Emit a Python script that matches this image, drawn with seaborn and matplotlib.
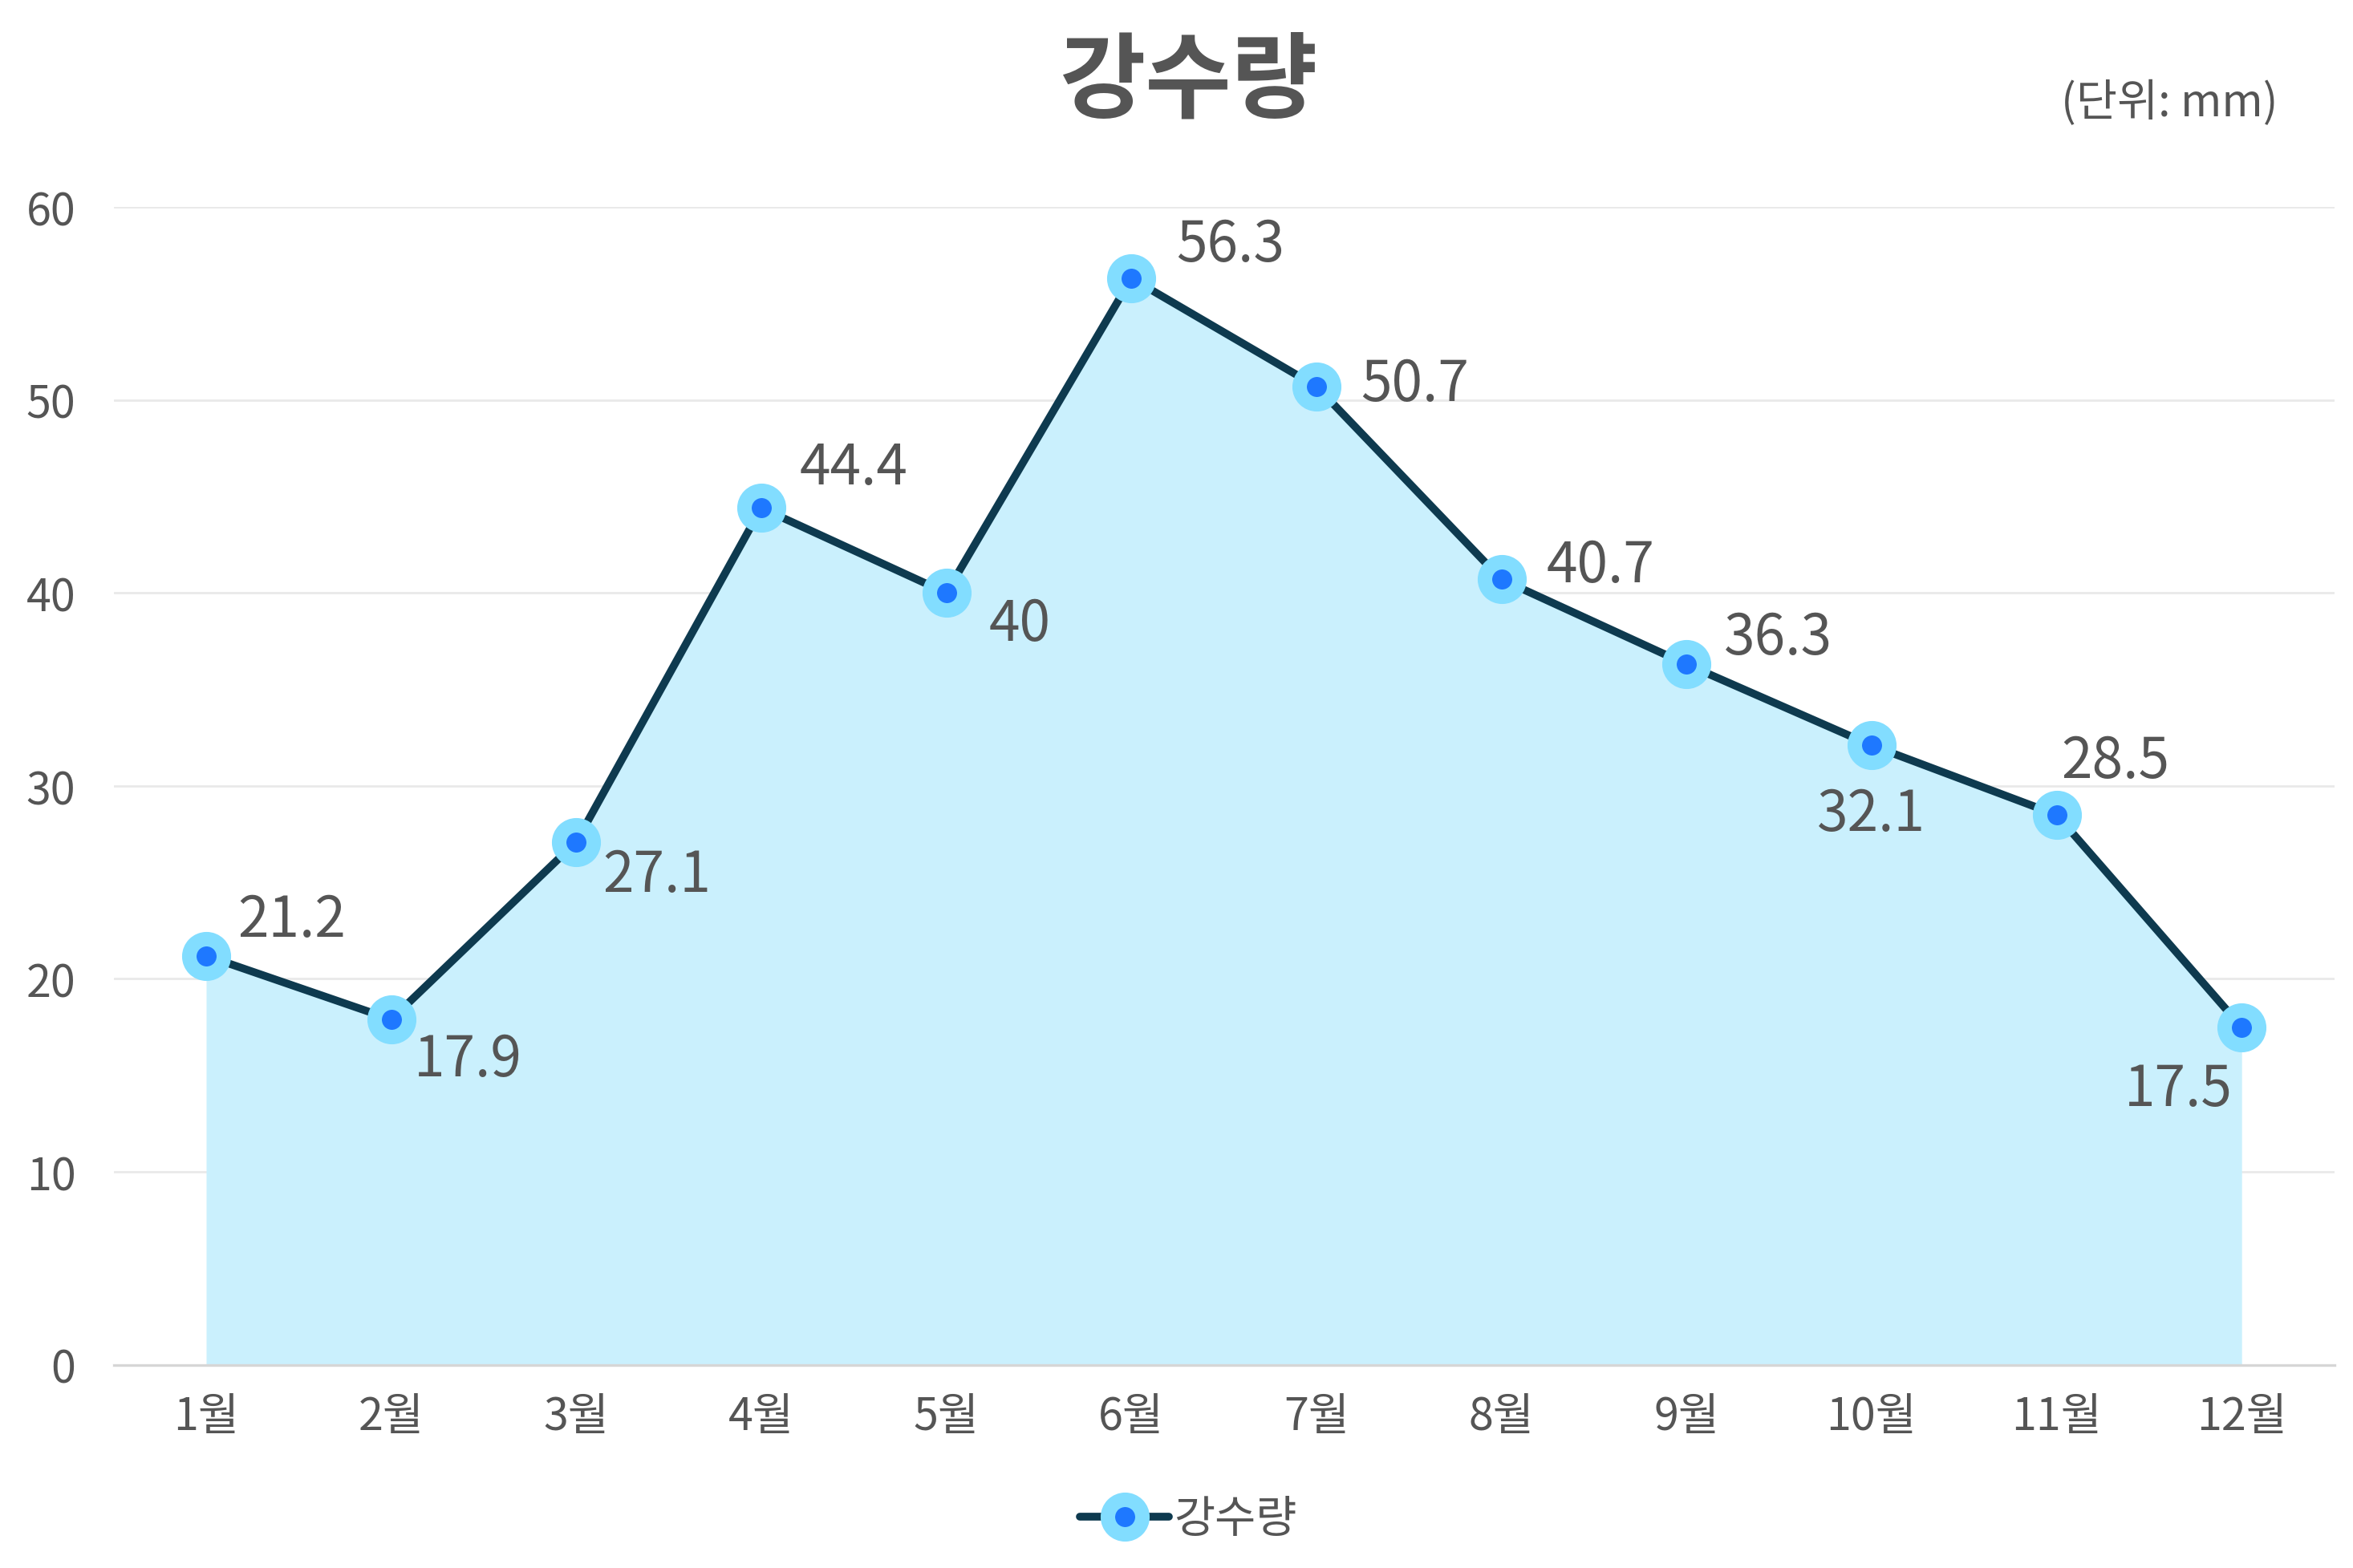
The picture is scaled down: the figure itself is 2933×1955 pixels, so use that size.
import matplotlib
matplotlib.use("Agg")
import matplotlib.pyplot as plt
import seaborn as sns
import pandas as pd

# data
months = ["1월", "2월", "3월", "4월", "5월", "6월", "7월", "8월", "9월", "10월", "11월", "12월"]
rain = [21.2, 17.9, 27.1, 44.4, 40, 56.3, 50.7, 40.7, 36.3, 32.1, 28.5, 17.5]
series_name = "강수량"
title = "강수량"
unit_note = "(단위: mm)"
y_ticks = [0, 10, 20, 30, 40, 50, 60]

# label offsets (points) and alignment, per point
label_pos = [
    ((14, 16), "left"), ((10, -18), "left"), ((12, -15), "left"), ((17, 18), "left"),
    ((19, -14), "left"), ((20, 15), "left"), ((20, 1), "left"), ((20, 6), "left"),
    ((17, 12), "left"), ((0, -31), "center"), ((2, 24), "left"), ((-4, -28), "right"),
]

sns.set_theme(style="white")
plt.rcParams["font.family"] = ["Noto Sans CJK KR", "DejaVu Sans"]

TEXT = "#555555"
LINE = "#0e3a4f"
FILL = "#caf0fd"
RING = "#82ddff"
DOT = "#1e78ff"

df = pd.DataFrame({"month": months, "rain": rain})

fig = plt.figure(figsize=(14.665, 9.78), dpi=200)
ax = fig.add_axes([0.0483, 0.1295, 0.9437, 0.7381])

x = list(range(len(months)))
ax.fill_between(x, df["rain"], 0, color=FILL, linewidth=0, zorder=1)
sns.lineplot(data=df, x="month", y="rain", ax=ax, sort=False, color=LINE,
             linewidth=3.5, marker="o", markersize=15.5, markerfacecolor=DOT,
             markeredgecolor=RING, markeredgewidth=6.5, label=series_name,
             zorder=3, solid_capstyle="round")

for i, v in enumerate(rain):
    (dx, dy), ha = label_pos[i]
    ax.annotate(f"{v:g}", (i, v), xytext=(dx, dy), textcoords="offset points",
                ha=ha, va="center", fontsize=25, color=TEXT, zorder=4)

ax.set_xlim(-0.5, len(months) - 0.5)
ax.set_ylim(0, 60)
ax.set_yticks(y_ticks)
ax.set_xlabel("")
ax.set_ylabel("")
ax.grid(axis="y", color="#e9e9e9", linewidth=1.0)
ax.grid(axis="x", visible=False)
ax.set_axisbelow(True)
for s in ["top", "right", "left"]:
    ax.spines[s].set_visible(False)
ax.spines["bottom"].set_color("#d6d6d6")
ax.spines["bottom"].set_linewidth(1.2)
ax.tick_params(axis="x", length=0, pad=13, labelsize=20, labelcolor=TEXT)
ax.tick_params(axis="y", length=0, pad=17, labelsize=20, labelcolor=TEXT)

ax.get_legend().remove()
handles, labels = ax.get_legend_handles_labels()
fig.legend(handles, labels, loc="center", bbox_to_anchor=(0.505, 0.031),
           frameon=False, fontsize=20, labelcolor=TEXT, handlelength=2.0,
           handletextpad=0.1)

fig.text(0.505, 0.947, title, ha="center", va="center", fontsize=42,
         fontweight="bold", color=TEXT)
fig.text(0.968, 0.934, unit_note, ha="right", va="center", fontsize=20, color=TEXT)

fig.savefig("out.png", dpi=200, facecolor="white")
